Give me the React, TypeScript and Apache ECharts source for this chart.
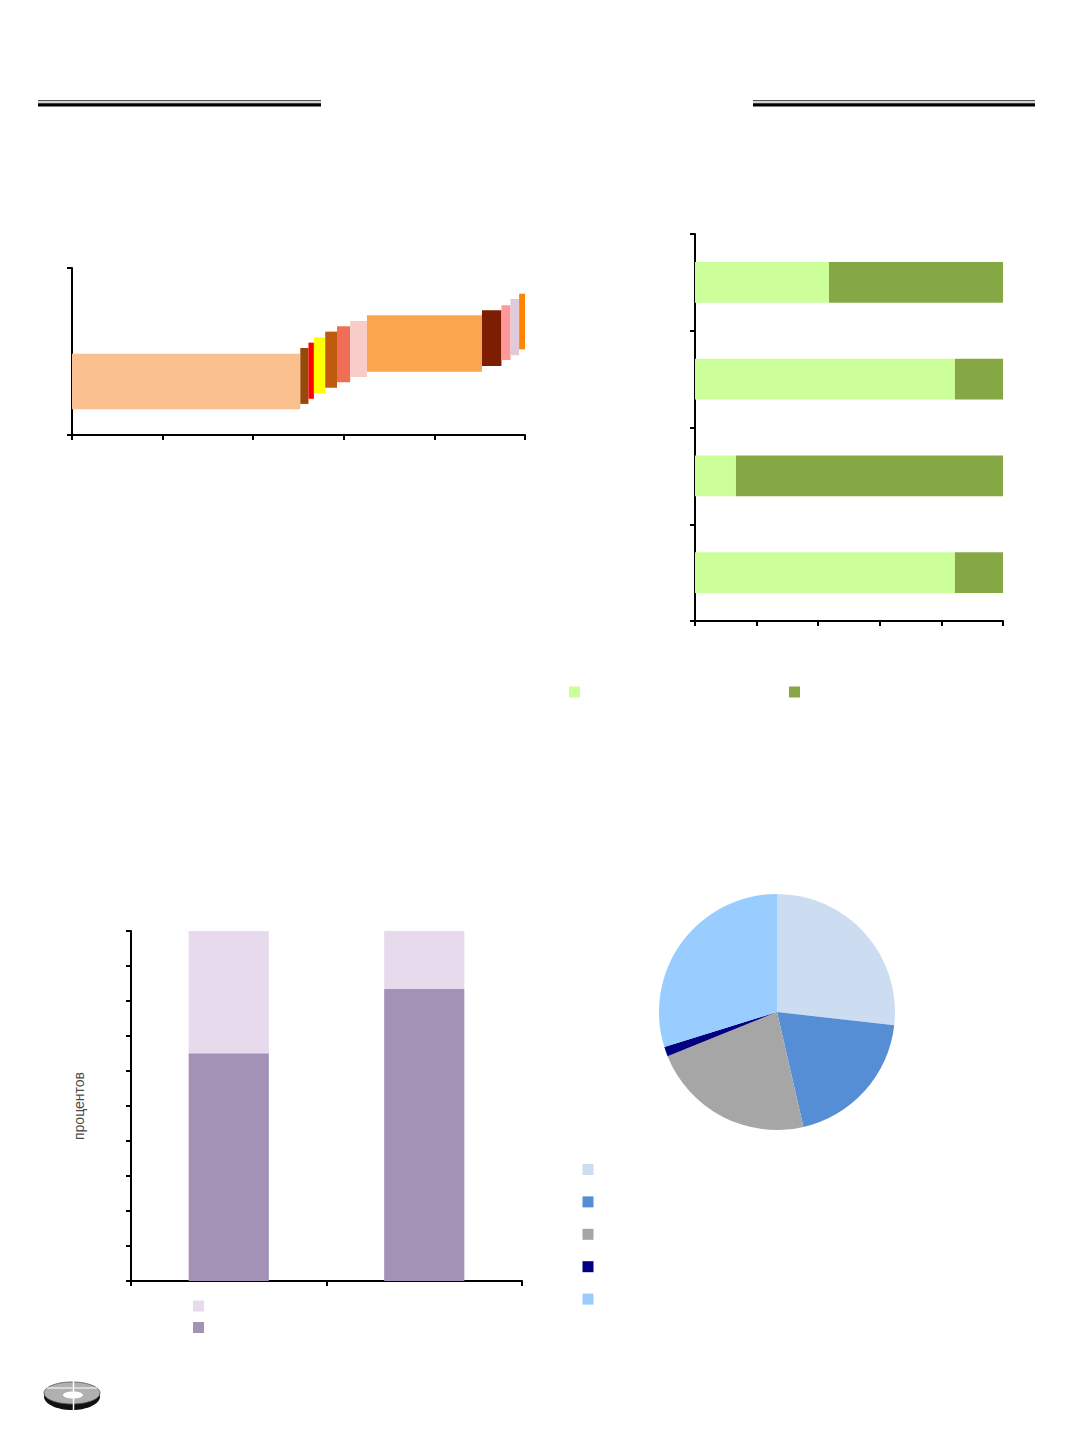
import React, { useEffect, useRef } from "react";
import * as echarts from "echarts";

// ---- Chart 1 (top-left): floating blocks with variable widths ----
const blockStart = [0, 50.4, 52.2, 53.4, 55.9, 58.5, 61.4, 65.1, 90.5, 94.8, 96.8, 98.7];
const blockEnd = [50.4, 52.2, 53.4, 55.9, 58.5, 61.4, 65.1, 90.5, 94.8, 96.8, 98.7, 100];
const blockLow = [15.4, 18.6, 21.7, 25.0, 28.3, 31.6, 34.7, 37.9, 41.3, 44.9, 47.7, 51.3];
const blockHigh = [48.7, 52.1, 55.3, 58.5, 61.9, 65.1, 68.3, 71.7, 74.7, 77.7, 81.4, 84.6];
const blockColors = [
  "#FAC090", "#984807", "#FF0000", "#FFFF00", "#C05A0C", "#F06E56",
  "#F9CCCA", "#FBA64F", "#7D1E02", "#FF9999", "#E1C9DC", "#FF8400",
];

// ---- Chart 2 (top-right): 100% stacked horizontal bars (bottom to top) ----
const hbarCategories = ["4", "3", "2", "1"];
const hbarLight = [84.4, 13.3, 84.4, 43.5];
const hbarDark = [15.6, 86.7, 15.6, 56.5];

// ---- Chart 3 (bottom-left): 100% stacked columns ----
const colCategories = ["1", "2"];
const colDark = [65.1, 83.4];
const colLight = [34.9, 16.6];
const colAxisName = "процентов";

// ---- Chart 4 (bottom-right): pie ----
const pieNames = ["p1", "p2", "p3", "p4", "p5"];
const pieValues = [26.8, 19.6, 22.5, 1.3, 29.8];
const pieColors = ["#CCDDF2", "#558ED5", "#A6A6A6", "#000080", "#99CCFF"];

const axisLine = { show: true, lineStyle: { color: "#000", width: 2 } };
const axisTick = { show: true, length: 5, lineStyle: { color: "#000", width: 2 } };
const hidden = { show: false };
const emptyFmt = () => "";

function rule(x: number, w: number) {
  return [
    { type: "rect", shape: { x, y: 100, width: w, height: 1.2 }, style: { fill: "#555" } },
    { type: "rect", shape: { x, y: 101.2, width: w, height: 2 }, style: { fill: "#d4d4d4" } },
    { type: "rect", shape: { x, y: 103.2, width: w, height: 3.4 }, style: { fill: "#000" } },
  ];
}

export default function App() {
  const ref = useRef<HTMLDivElement>(null);
  useEffect(() => {
    if (!ref.current) return;
    const chart = echarts.init(ref.current, null, { renderer: "svg" });
    const blockData = blockStart.map((s, i) => [s, blockEnd[i], blockLow[i], blockHigh[i]]);
    const option: any = {
      animation: false,
      backgroundColor: "#fff",
      grid: [
        { left: 72, top: 268, width: 453, height: 167 },
        { left: 695, top: 234, width: 308, height: 387 },
        { left: 131, top: 931, width: 391, height: 350 },
      ],
      xAxis: [
        { gridIndex: 0, type: "value", min: 0, max: 100, interval: 20, axisLine, axisTick, axisLabel: hidden, splitLine: hidden },
        { gridIndex: 1, type: "value", min: 0, max: 100, interval: 20, axisLine, axisTick, axisLabel: hidden, splitLine: hidden },
        { gridIndex: 2, type: "category", data: colCategories, axisLine, axisTick, axisLabel: hidden, splitLine: hidden },
      ],
      yAxis: [
        { gridIndex: 0, type: "value", min: 0, max: 100, interval: 100, axisLine, axisTick, axisLabel: hidden, splitLine: hidden },
        { gridIndex: 1, type: "category", data: hbarCategories, axisLine, axisTick, axisLabel: hidden, splitLine: hidden },
        {
          gridIndex: 2, type: "value", min: 0, max: 100, interval: 10, axisLine, axisTick, axisLabel: hidden, splitLine: hidden,
          name: colAxisName, nameLocation: "middle", nameRotate: 90, nameGap: 45,
          nameTextStyle: { color: "#4a4a4a", fontSize: 14, fontFamily: "Liberation Sans, Arial, sans-serif" },
        },
      ],
      legend: [
        { data: ["h1"], left: 569, top: 686.5, padding: 0, icon: "rect", itemWidth: 11, itemHeight: 11, formatter: emptyFmt, selectedMode: false, textStyle: { fontSize: 8 } },
        { data: ["h2"], left: 789, top: 686.5, padding: 0, icon: "rect", itemWidth: 11, itemHeight: 11, formatter: emptyFmt, selectedMode: false, textStyle: { fontSize: 8 } },
        { data: ["c2"], left: 193, top: 1300.5, padding: 0, icon: "rect", itemWidth: 11, itemHeight: 11, formatter: emptyFmt, selectedMode: false, textStyle: { fontSize: 8 } },
        { data: ["c1"], left: 193, top: 1322, padding: 0, icon: "rect", itemWidth: 11, itemHeight: 11, formatter: emptyFmt, selectedMode: false, textStyle: { fontSize: 8 } },
        { data: pieNames, orient: "vertical", left: 582.5, top: 1164, padding: 0, icon: "rect", itemWidth: 11, itemHeight: 11, itemGap: 21.4, formatter: emptyFmt, selectedMode: false, textStyle: { fontSize: 8 } },
      ],
      series: [
        {
          type: "custom",
          xAxisIndex: 0,
          yAxisIndex: 0,
          encode: { x: [0, 1], y: [2, 3] },
          data: blockData,
          renderItem: (params: any, api: any) => {
            const p0 = api.coord([api.value(0), api.value(3)]);
            const p1 = api.coord([api.value(1), api.value(2)]);
            return {
              type: "rect",
              shape: { x: p0[0], y: p0[1], width: p1[0] - p0[0], height: p1[1] - p0[1] },
              style: { fill: blockColors[params.dataIndex] },
            };
          },
        },
        { name: "h1", type: "bar", xAxisIndex: 1, yAxisIndex: 1, stack: "h", data: hbarLight, barWidth: "42%", itemStyle: { color: "#CCFF99" } },
        { name: "h2", type: "bar", xAxisIndex: 1, yAxisIndex: 1, stack: "h", data: hbarDark, barWidth: "42%", itemStyle: { color: "#86A844" } },
        { name: "c1", type: "bar", xAxisIndex: 2, yAxisIndex: 2, stack: "c", data: colDark, barWidth: "41%", itemStyle: { color: "#A491B6" } },
        { name: "c2", type: "bar", xAxisIndex: 2, yAxisIndex: 2, stack: "c", data: colLight, barWidth: "41%", itemStyle: { color: "#E7DAED" } },
        {
          type: "pie",
          center: [777, 1012],
          radius: 118,
          startAngle: 90,
          clockwise: true,
          label: hidden,
          labelLine: hidden,
          emphasis: { disabled: true },
          data: pieNames.map((n, i) => ({ name: n, value: pieValues[i], itemStyle: { color: pieColors[i] } })),
        },
      ],
      graphic: [
        ...rule(38, 283),
        ...rule(753, 282),
        { type: "ellipse", shape: { cx: 72, cy: 1396.5, rx: 28, ry: 13.5 }, style: { fill: "#111" } },
        { type: "ellipse", shape: { cx: 72, cy: 1393, rx: 28, ry: 11 }, style: { fill: "#b0b0b0", stroke: "#555", lineWidth: 0.8 } },
        { type: "line", shape: { x1: 47, y1: 1388, x2: 97, y2: 1388 }, style: { stroke: "#fff", lineWidth: 1.2 } },
        { type: "ellipse", shape: { cx: 73, cy: 1395, rx: 10, ry: 3.5 }, style: { fill: "#fff" } },
        { type: "line", shape: { x1: 73.5, y1: 1381, x2: 73.5, y2: 1411 }, style: { stroke: "#fff", lineWidth: 1.5 } },
      ],
    };
    chart.setOption(option);
    return () => chart.dispose();
  }, []);
  return (
    <div
      ref={ref}
      style={{ position: "absolute", left: 0, top: 0, width: 1072, height: 1433 }}
    />
  );
}
